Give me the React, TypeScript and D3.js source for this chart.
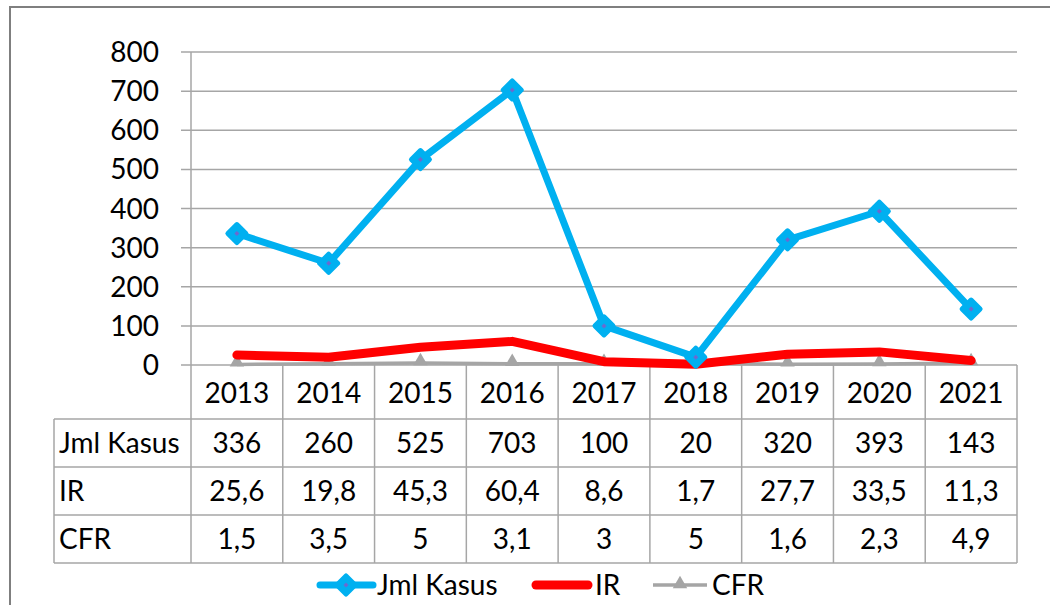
import * as d3 from "d3";
import React, { useRef, useEffect } from "react";

const years = ["2013", "2014", "2015", "2016", "2017", "2018", "2019", "2020", "2021"];
const jmlKasus = [336, 260, 525, 703, 100, 20, 320, 393, 143];
const ir = [25.6, 19.8, 45.3, 60.4, 8.6, 1.7, 27.7, 33.5, 11.3];
const cfr = [1.5, 3.5, 5, 3.1, 3, 5, 1.6, 2.3, 4.9];
const yTicks = [0, 100, 200, 300, 400, 500, 600, 700, 800];
const seriesNames = ["Jml Kasus", "IR", "CFR"];

const fmt = (v: number) => String(v).replace(".", ",");

const App = () => {
    const svgRef = useRef<SVGSVGElement | null>(null);

    useEffect(() => {
        const width = 1050;
        const height = 605;
        const font = "Lato, 'Open Sans', sans-serif";
        const fontSize = 28;
        const gridColor = "#a6a6a6";

        const marginLeft = 191;
        const marginRight = 1017;
        const plotTop = 52;
        const plotBottom = 365;
        const rowH = 48;
        const headerBottom = 419;
        const labelLeft = 54;

        const svg = d3.select(svgRef.current);
        svg.selectAll("*").remove();

        // outer chart border
        svg.append("rect")
            .attr("x", 10).attr("y", 7)
            .attr("width", width).attr("height", height)
            .attr("fill", "#fff")
            .attr("stroke", "#7f7f7f")
            .attr("stroke-width", 2);

        const x = d3.scaleBand().domain(years).range([marginLeft, marginRight]);
        const y = d3.scaleLinear().domain([0, 800]).range([plotBottom, plotTop]);
        const cx = (d: string) => x(d)! + x.bandwidth() / 2;

        // gridlines and y tick marks
        svg.append("g")
            .selectAll("line")
            .data(yTicks)
            .join("line")
            .attr("x1", marginLeft - 10)
            .attr("x2", marginRight)
            .attr("y1", d => y(d))
            .attr("y2", d => y(d))
            .attr("stroke", gridColor)
            .attr("stroke-width", 1.5);

        svg.append("line")
            .attr("x1", marginLeft).attr("x2", marginLeft)
            .attr("y1", plotTop).attr("y2", plotBottom)
            .attr("stroke", gridColor).attr("stroke-width", 1.5);

        svg.append("g")
            .attr("font-family", font)
            .attr("font-size", fontSize)
            .attr("text-anchor", "end")
            .selectAll("text")
            .data(yTicks)
            .join("text")
            .attr("x", 159)
            .attr("y", d => y(d))
            .attr("dy", "0.36em")
            .text(d => d);

        // data table
        const tableBottom = headerBottom + rowH * 3;
        const table = svg.append("g").attr("stroke", gridColor).attr("stroke-width", 1.5);
        years.concat(["end"]).forEach((d, i) => {
            const xx = marginLeft + i * x.bandwidth();
            table.append("line")
                .attr("x1", xx).attr("x2", xx)
                .attr("y1", plotBottom).attr("y2", tableBottom);
        });
        table.append("line")
            .attr("x1", labelLeft).attr("x2", labelLeft)
            .attr("y1", headerBottom).attr("y2", tableBottom);
        [0, 1, 2, 3].forEach(i => {
            table.append("line")
                .attr("x1", labelLeft).attr("x2", marginRight)
                .attr("y1", headerBottom + i * rowH).attr("y2", headerBottom + i * rowH);
        });

        const txt = svg.append("g")
            .attr("font-family", font)
            .attr("font-size", fontSize)
            .attr("fill", "#000");

        txt.selectAll("text.year")
            .data(years)
            .join("text")
            .attr("class", "year")
            .attr("text-anchor", "middle")
            .attr("x", d => cx(d))
            .attr("y", (plotBottom + headerBottom) / 2 + 1)
            .attr("dy", "0.36em")
            .text(d => d);

        const rows = [jmlKasus, ir, cfr];
        rows.forEach((vals, r) => {
            const rowMid = headerBottom + r * rowH + rowH / 2;
            txt.append("text")
                .attr("x", labelLeft + 5)
                .attr("y", rowMid)
                .attr("dy", "0.36em")
                .text(seriesNames[r]);
            txt.selectAll(`text.r${r}`)
                .data(vals)
                .join("text")
                .attr("class", `r${r}`)
                .attr("text-anchor", "middle")
                .attr("x", (d, i) => cx(years[i]))
                .attr("y", rowMid)
                .attr("dy", "0.36em")
                .text(d => fmt(d));
        });

        const line = d3.line<number>()
            .x((d, i) => cx(years[i]))
            .y(d => y(d));

        // CFR series
        svg.append("path")
            .attr("d", line(cfr))
            .attr("fill", "none")
            .attr("stroke", "#a5a5a5")
            .attr("stroke-width", 3.5);
        const tri = d3.symbol().type(d3.symbolTriangle).size(90);
        svg.append("g")
            .selectAll("path")
            .data(cfr)
            .join("path")
            .attr("transform", (d, i) => `translate(${cx(years[i])},${y(d) - 2})`)
            .attr("d", tri())
            .attr("fill", "#a5a5a5");

        // IR series
        svg.append("path")
            .attr("d", line(ir))
            .attr("fill", "none")
            .attr("stroke", "#ff0000")
            .attr("stroke-width", 9)
            .attr("stroke-linecap", "round")
            .attr("stroke-linejoin", "round");

        // Jml Kasus series
        svg.append("path")
            .attr("d", line(jmlKasus))
            .attr("fill", "none")
            .attr("stroke", "#00b0f0")
            .attr("stroke-width", 7)
            .attr("stroke-linejoin", "round");

        const diamond = (s: number) => `M0,${-s}L${s},0L0,${s}L${-s},0Z`;
        const markers = svg.append("g")
            .selectAll("g")
            .data(jmlKasus)
            .join("g")
            .attr("transform", (d, i) => `translate(${cx(years[i])},${y(d)})`);
        markers.append("path")
            .attr("d", diamond(9))
            .attr("fill", "#00b0f0")
            .attr("stroke", "#00b0f0")
            .attr("stroke-width", 5)
            .attr("stroke-linejoin", "round");
        markers.append("path")
            .attr("d", diamond(2.5))
            .attr("fill", "#6a6ad0");

        // legend
        const ly = 585;
        const leg = svg.append("g");
        leg.append("line")
            .attr("x1", 320).attr("x2", 373).attr("y1", ly).attr("y2", ly)
            .attr("stroke", "#00b0f0").attr("stroke-width", 7).attr("stroke-linecap", "round");
        leg.append("path")
            .attr("transform", `translate(346,${ly})`)
            .attr("d", diamond(9))
            .attr("fill", "#00b0f0").attr("stroke", "#00b0f0")
            .attr("stroke-width", 5).attr("stroke-linejoin", "round");
        leg.append("path")
            .attr("transform", `translate(346,${ly})`)
            .attr("d", diamond(2.5))
            .attr("fill", "#6a6ad0");
        leg.append("line")
            .attr("x1", 536).attr("x2", 588).attr("y1", ly).attr("y2", ly)
            .attr("stroke", "#ff0000").attr("stroke-width", 9).attr("stroke-linecap", "round");
        leg.append("line")
            .attr("x1", 653).attr("x2", 707).attr("y1", ly).attr("y2", ly)
            .attr("stroke", "#a5a5a5").attr("stroke-width", 3.5);
        leg.append("path")
            .attr("transform", `translate(680,${ly - 1})`)
            .attr("d", tri())
            .attr("fill", "#a5a5a5");

        const legX = [377, 595, 712];
        leg.selectAll("text")
            .data(seriesNames)
            .join("text")
            .attr("x", (d, i) => legX[i])
            .attr("y", ly)
            .attr("dy", "0.36em")
            .attr("font-family", font)
            .attr("font-size", fontSize)
            .text(d => d);
    }, []);

    return (
        <svg
            ref={svgRef}
            width={1050}
            height={605}
            style={{ position: "absolute", left: 0, top: 0, background: "#fff" }}
        />
    );
};

export default App;
